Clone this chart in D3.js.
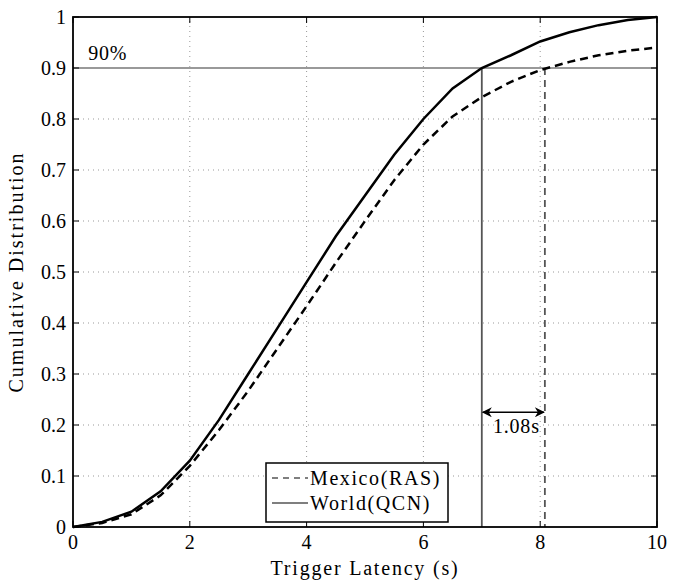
<!DOCTYPE html>
<html>
<head>
<meta charset="utf-8">
<script src="https://cdn.jsdelivr.net/npm/d3@7"></script>
</head>
<body style="margin:0; background:#fff">
<script>
// latency (s) sampled every 0.5s
var latency = [0, 0.5, 1, 1.5, 2, 2.5, 3, 3.5, 4, 4.5, 5, 5.5, 6, 6.5, 7, 7.5, 8, 8.5, 9, 9.5, 10];
var worldQCN = [0, 0.01, 0.03, 0.07, 0.13, 0.21, 0.30, 0.39, 0.48, 0.57, 0.65, 0.73, 0.80, 0.86, 0.90, 0.925, 0.952, 0.97, 0.984, 0.994, 1.0];
var mexicoRAS = [0, 0.008, 0.025, 0.062, 0.12, 0.19, 0.267, 0.35, 0.433, 0.518, 0.60, 0.68, 0.75, 0.805, 0.843, 0.873, 0.896, 0.912, 0.925, 0.934, 0.94];
var xTicks = [0, 2, 4, 6, 8, 10];
var yTicks = [0, 0.1, 0.2, 0.3, 0.4, 0.5, 0.6, 0.7, 0.8, 0.9, 1];
var level = 0.9;
var worldAt90 = 7.0, mexicoAt90 = 8.08;
var arrowY = 0.225;
var legendNames = ["Mexico(RAS)", "World(QCN)"];

var width = 678, height = 580;
var margin = {top: 17, right: 21, bottom: 53, left: 73};

var svg = d3.select("body").append("svg")
    .attr("width", width).attr("height", height);

var x = d3.scaleLinear().domain([0, 10]).range([margin.left, width - margin.right]);
var y = d3.scaleLinear().domain([0, 1]).range([height - margin.bottom, margin.top]);

// every label in the serif face
function label(sel, size, spacing) {
  return sel.append("text").style("font-family", "'Liberation Serif'")
    .attr("font-size", size).attr("letter-spacing", spacing || 0);
}

var defs = svg.append("defs");
defs.append("marker").attr("id", "head")
    .attr("viewBox", "0 0 10 10").attr("refX", 9).attr("refY", 5)
    .attr("markerWidth", 12).attr("markerHeight", 10).attr("markerUnits", "userSpaceOnUse")
    .attr("orient", "auto-start-reverse")
  .append("path").attr("d", "M0,0 L10,5 L0,10 L3,5 Z").attr("fill", "#000");

// grid
var grid = svg.append("g").attr("stroke", "#999").attr("stroke-width", 1).attr("stroke-dasharray", "1,4");
grid.selectAll(".gx").data(xTicks.slice(1, -1)).enter().append("line")
    .attr("x1", d => x(d)).attr("x2", d => x(d)).attr("y1", y(0)).attr("y2", y(1));
grid.selectAll(".gy").data(yTicks.slice(1, -1)).enter().append("line")
    .attr("y1", d => y(d)).attr("y2", d => y(d)).attr("x1", x(0)).attr("x2", x(10));

// 90% line
svg.append("line").attr("x1", x(0)).attr("x2", x(10)).attr("y1", y(level)).attr("y2", y(level))
    .attr("stroke", "#999").attr("stroke-width", 2);
label(svg, 20, 0.8).attr("x", x(0.26)).attr("y", y(0.915)).text("90%");

// vertical markers
svg.append("line").attr("x1", x(worldAt90)).attr("x2", x(worldAt90)).attr("y1", y(level)).attr("y2", y(0))
    .attr("stroke", "#555").attr("stroke-width", 1.8);
svg.append("line").attr("x1", x(mexicoAt90)).attr("x2", x(mexicoAt90)).attr("y1", y(level)).attr("y2", y(0))
    .attr("stroke", "#555").attr("stroke-width", 1.8).attr("stroke-dasharray", "7,5");

// curves
var line = d3.line().x((d, i) => x(latency[i])).y(d => y(d));
svg.append("path").datum(mexicoRAS).attr("d", line).attr("fill", "none")
    .attr("stroke", "#000").attr("stroke-width", 2.5).attr("stroke-dasharray", "8,5");
svg.append("path").datum(worldQCN).attr("d", line).attr("fill", "none")
    .attr("stroke", "#000").attr("stroke-width", 2.5);

// double arrow
svg.append("line").attr("x1", x(worldAt90) + 1).attr("x2", x(mexicoAt90) - 1)
    .attr("y1", y(arrowY)).attr("y2", y(arrowY))
    .attr("stroke", "#000").attr("stroke-width", 1.5)
    .attr("marker-start", "url(#head)").attr("marker-end", "url(#head)");
label(svg, 20, 0.8).attr("x", (x(worldAt90) + x(mexicoAt90)) / 2 + 3).attr("y", y(arrowY) + 21)
    .attr("text-anchor", "middle").text("1.08s");

// axes box
svg.append("rect").attr("x", x(0)).attr("y", y(1)).attr("width", x(10) - x(0)).attr("height", y(0) - y(1))
    .attr("fill", "none").attr("stroke", "#000").attr("stroke-width", 1.8);

// ticks (inward, all four sides)
var tk = svg.append("g").attr("stroke", "#000").attr("stroke-width", 1);
xTicks.forEach(function (d) {
  tk.append("line").attr("x1", x(d)).attr("x2", x(d)).attr("y1", y(0)).attr("y2", y(0) - 6);
  tk.append("line").attr("x1", x(d)).attr("x2", x(d)).attr("y1", y(1)).attr("y2", y(1) + 6);
});
yTicks.forEach(function (d) {
  tk.append("line").attr("y1", y(d)).attr("y2", y(d)).attr("x1", x(0)).attr("x2", x(0) + 6);
  tk.append("line").attr("y1", y(d)).attr("y2", y(d)).attr("x1", x(10)).attr("x2", x(10) - 6);
});

// tick labels
xTicks.forEach(function (d) {
  label(svg, 20).attr("x", x(d)).attr("y", y(0) + 22).attr("text-anchor", "middle").text(d);
});
yTicks.forEach(function (d) {
  label(svg, 20).attr("x", x(0) - 7).attr("y", y(d) + 7).attr("text-anchor", "end").text(d);
});

// axis titles
label(svg, 20, 1.8).attr("x", (x(0) + x(10)) / 2).attr("y", height - 5).attr("text-anchor", "middle")
    .text("Trigger Latency (s)");
label(svg, 20, 2).attr("transform", "translate(23," + (y(0) + y(1)) / 2 + ") rotate(-90)")
    .attr("text-anchor", "middle").text("Cumulative Distribution");

// legend
var lg = svg.append("g").attr("transform", "translate(266,463)");
lg.append("rect").attr("width", 182).attr("height", 59).attr("fill", "#fff")
    .attr("stroke", "#000").attr("stroke-width", 1.5);
legendNames.forEach(function (name, i) {
  var ly = 15 + i * 25;
  lg.append("line").attr("x1", 6).attr("x2", 42).attr("y1", ly).attr("y2", ly)
    .attr("stroke", "#555").attr("stroke-width", 1.5)
    .attr("stroke-dasharray", i === 0 ? "6,5" : null);
  label(lg, 20, 1.6).attr("x", 44).attr("y", ly + 7).text(name);
});
</script>
</body>
</html>
